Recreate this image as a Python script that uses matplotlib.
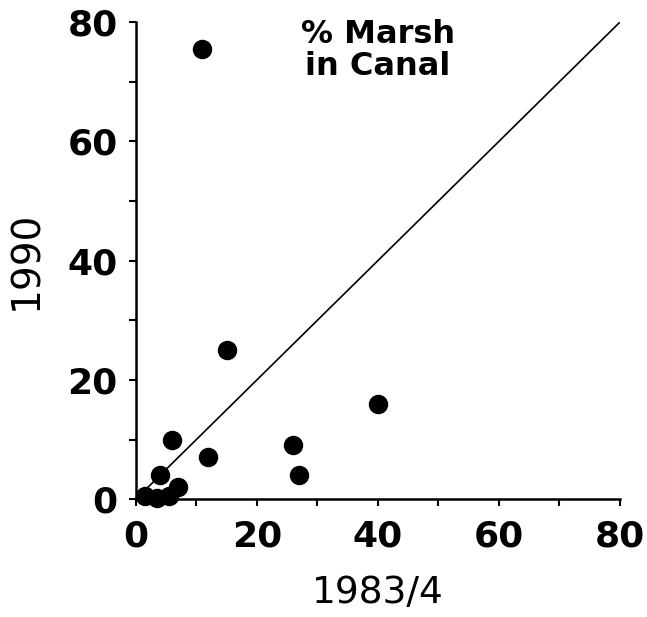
import numpy as np
import matplotlib.pyplot as plt
from matplotlib.ticker import MultipleLocator

# % marsh in canal, 1983/4 vs 1990
x_1983 = [11, 15, 6, 12, 4, 7, 40, 26, 27, 1.5, 3.5, 5.5]
y_1990 = [75.5, 25, 10, 7, 4, 2, 16, 9, 4, 0.5, 0.2, 0.6]

ticks = [0, 20, 40, 60, 80]
tick_labels = ['0', '20', '40', '60', '80']

fig = plt.figure(figsize=(6.47, 6.17), dpi=100)
ax = fig.add_axes([0.210, 0.191, 0.748, 0.773])

ax.plot([0, 80], [0, 80], color='black', linewidth=1.2)
ax.plot(x_1983, y_1990, 'o', color='black', markersize=13, clip_on=False)

ax.set_xlim(0, 80)
ax.set_ylim(0, 80)
ax.xaxis.set_minor_locator(MultipleLocator(10))
ax.yaxis.set_minor_locator(MultipleLocator(10))
ax.tick_params(axis='x', which='both', direction='out', length=5, width=1.5, pad=10)
ax.tick_params(axis='y', which='both', direction='out', length=5, width=1.5, pad=8)
ax.set_xticks(ticks, tick_labels, fontsize=26, fontweight='bold')
ax.set_yticks(ticks, tick_labels, fontsize=26, fontweight='bold')

for side in ['top', 'right']:
    ax.spines[side].set_visible(False)
for side in ['left', 'bottom']:
    ax.spines[side].set_linewidth(1.8)

ax.set_xlabel('1983/4', fontsize=27, labelpad=15)
ax.set_ylabel('1990', fontsize=28, labelpad=16)

ax.text(40, 75.3, '% Marsh\nin Canal', ha='center', va='center', fontsize=23,
        fontweight='bold', linespacing=1.05)

fig.savefig('out.png', dpi=100)
